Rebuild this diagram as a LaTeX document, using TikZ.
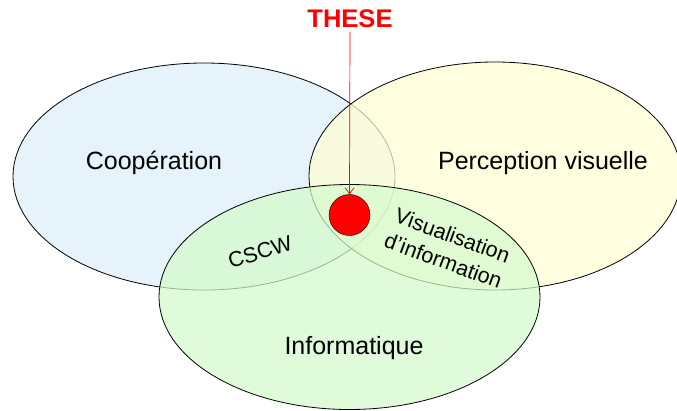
\documentclass[tikz,border=0pt]{standalone}
\usepackage{fontspec}
\setmainfont{Liberation Sans}
\usetikzlibrary{arrows.meta}
\definecolor{coopbleu}{RGB}{220,238,248}
\definecolor{percjaune}{RGB}{255,255,212}
\definecolor{infovert}{RGB}{212,250,204}
\tikzset{
  ensemble/.style={draw=black, line width=0.8pt, fill opacity=0.72},
  grand/.style={font=\fontsize{25}{29}\selectfont},
  moyen/.style={font=\fontsize{21.5}{27}\selectfont}
}

\begin{document}
\begin{tikzpicture}[x=1pt, y=-1pt]
		%%%%% START %%%%%
		\useasboundingbox (0, 0) rectangle (677, 410);
		
		\draw[ensemble, fill=coopbleu] (204, 176.5) ellipse [x radius=191pt, y radius=113.5pt];
		\draw[ensemble, fill=percjaune] (495, 176) ellipse [x radius=186pt, y radius=114pt];
		\draw[ensemble, fill=infovert] (349.5, 297) ellipse [x radius=190.5pt, y radius=112.5pt];
		
		\node[grand] (coop) at (154, 163) {Coopération};
		\node[grand] (perc) at (543, 163) {Perception visuelle};
		\node[grand] (info) at (354, 348) {Informatique};
		\node[moyen, rotate=17] (cscw) at (260, 252) {CSCW};
		\node[moyen, rotate=-20, align=center] (visu) at (448, 248) {Visualisation\\d’information};
		
		\node[circle, draw=black, fill=red, minimum size=41pt, inner sep=0pt] (coeur) at (349.5, 215) {};
		\node[text=red, font=\fontsize{25.5}{29}\selectfont\bfseries] (these) at (350, 19) {THESE};
		
		\draw[red, line width=0.7pt, -{Straight Barb[length=6pt, width=9pt]}] (these.south) -- (coeur.north);
		
		%%%%% END %%%%%
\end{tikzpicture}
\end{document}
